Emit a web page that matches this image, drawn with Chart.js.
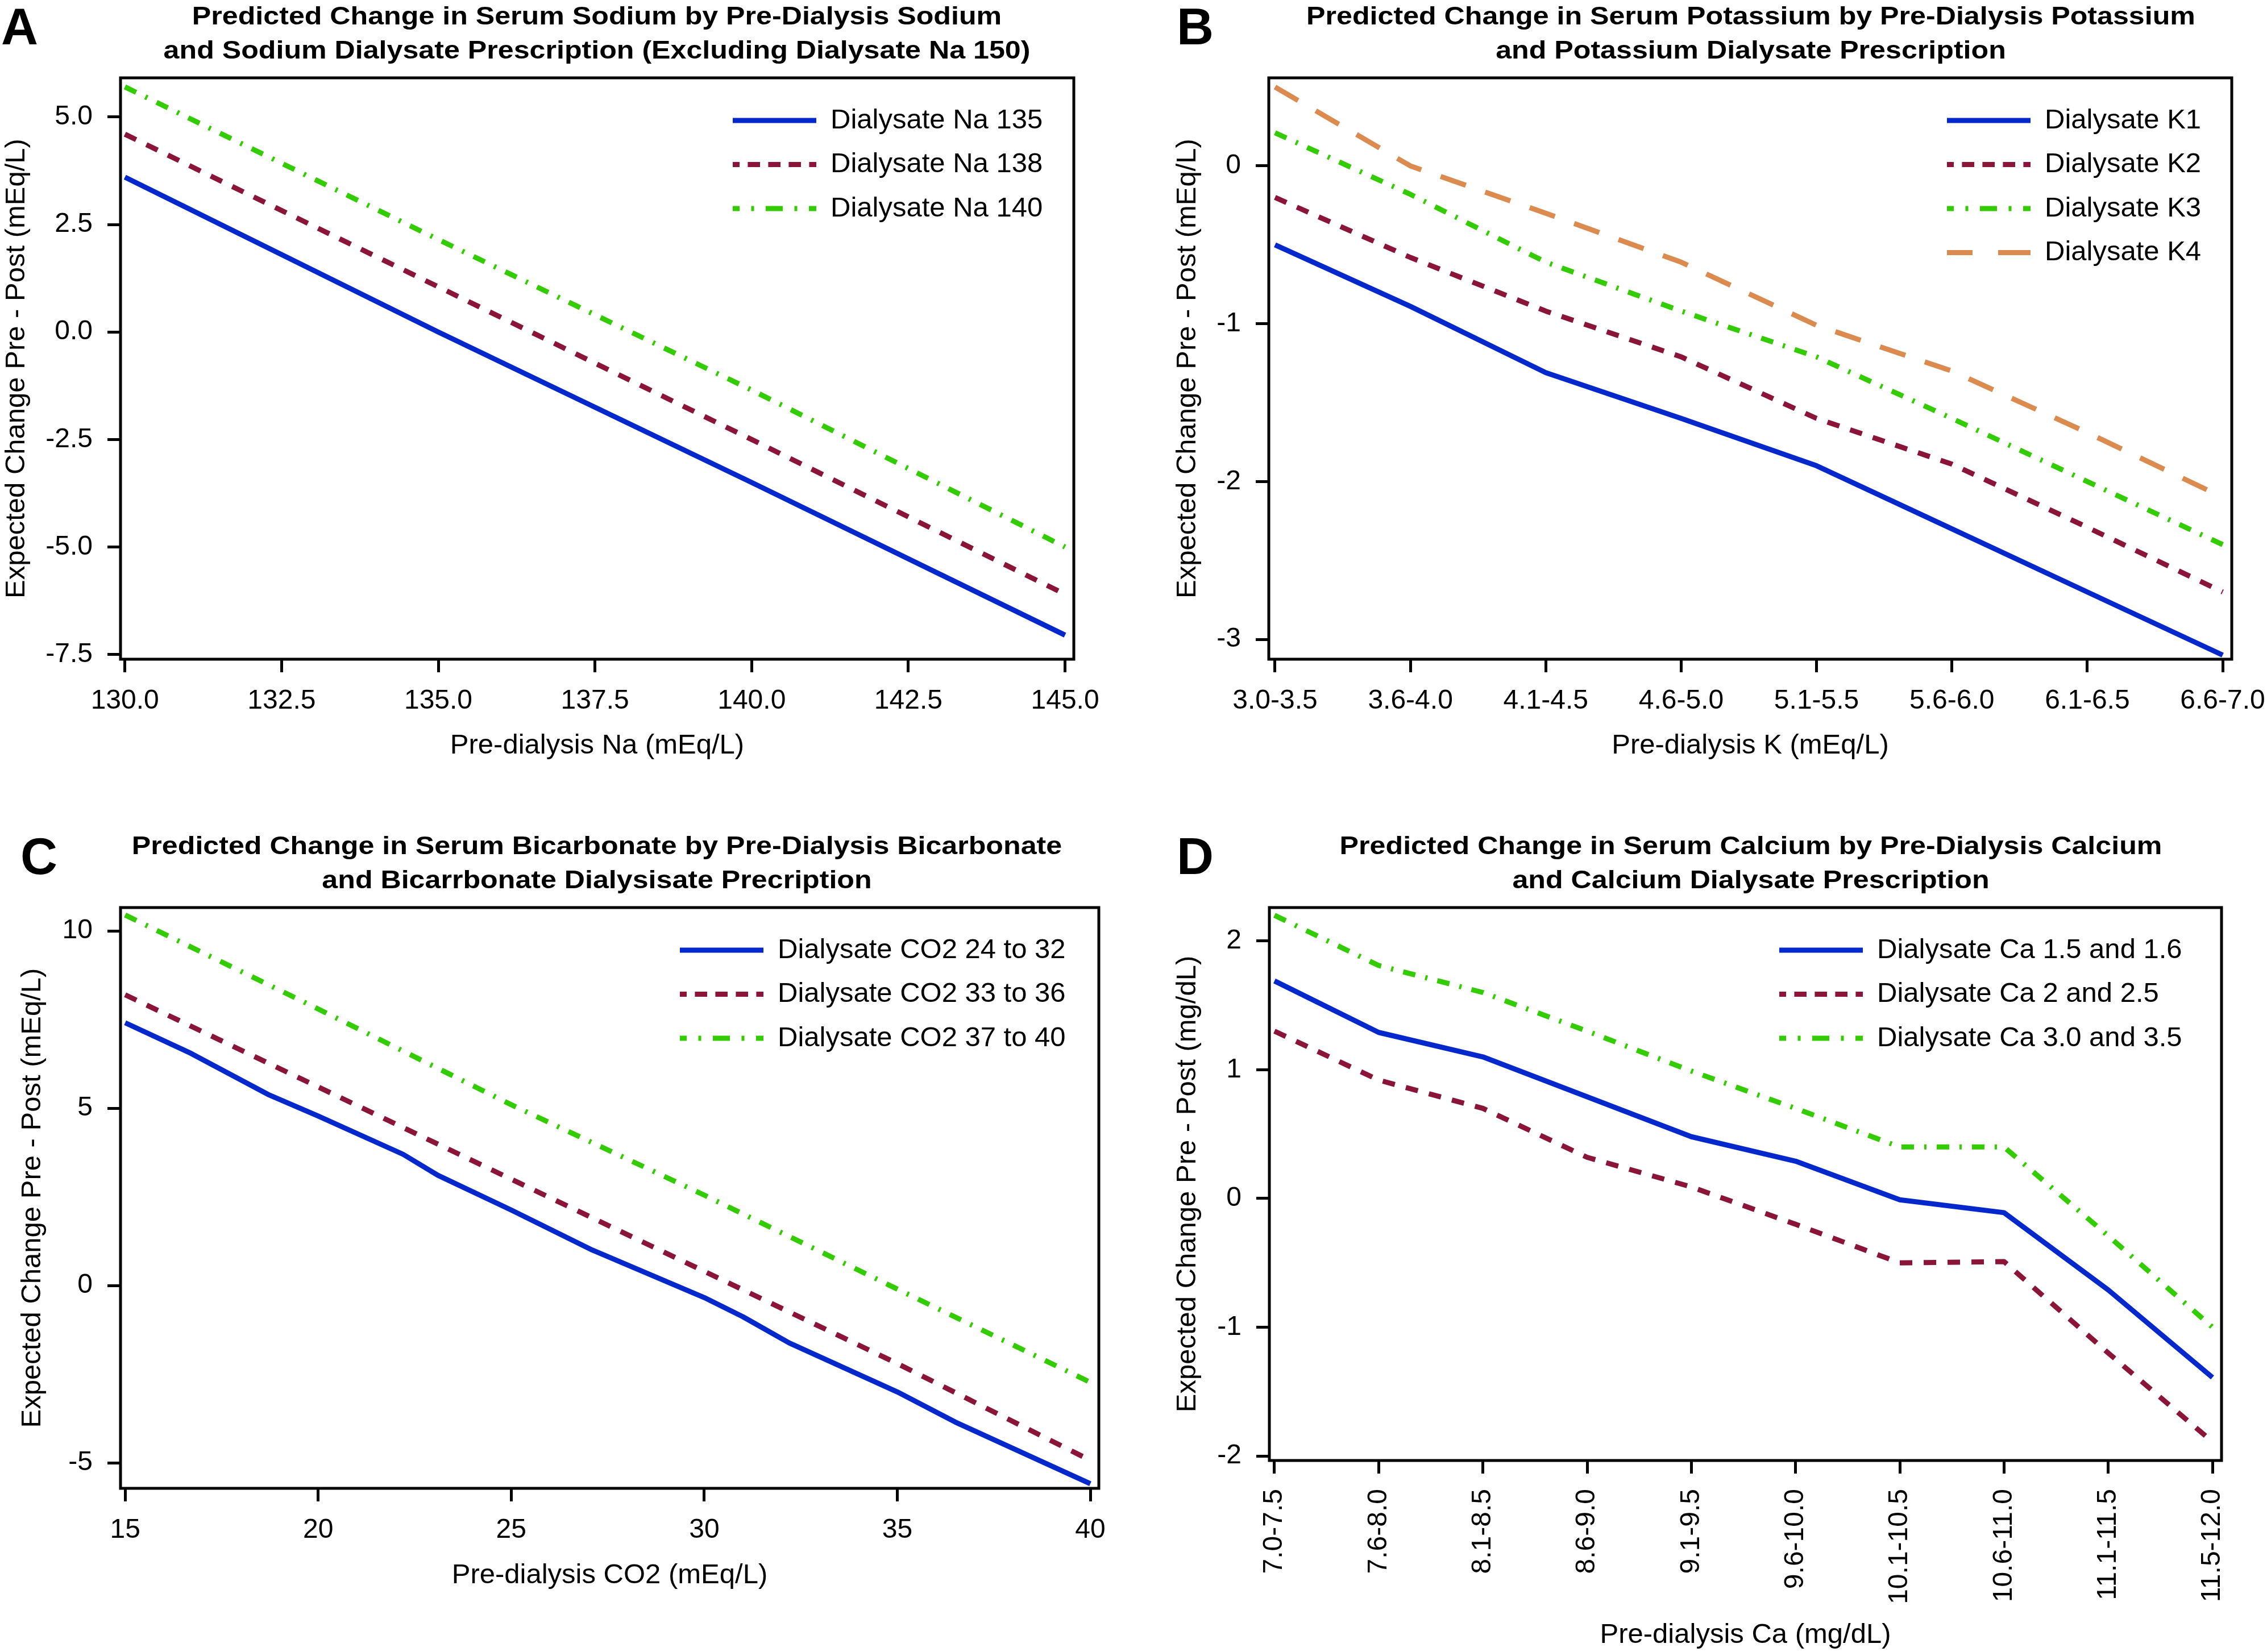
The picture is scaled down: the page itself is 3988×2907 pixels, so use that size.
<!DOCTYPE html>
<html>
<head>
<meta charset="utf-8">
<script src="https://cdn.jsdelivr.net/npm/chart.js@4.4.0/dist/chart.umd.min.js"></script>
<style>
    body { margin: 0; background: #fff; width: 3988px; height: 2907px; position: relative; overflow: hidden; }
    canvas { position: absolute; }
</style>
</head>
<body>
<canvas id="chartA" width="1994" height="1460" style="left:0;top:0"></canvas>
<canvas id="chartB" width="1994" height="1460" style="left:1994px;top:0"></canvas>
<canvas id="chartC" width="1994" height="1447" style="left:0;top:1460px"></canvas>
<canvas id="chartD" width="1994" height="1447" style="left:1994px;top:1460px"></canvas>
<script>
// A - sodium
const naX = [130, 135, 140, 145];
const na135 = [3.6, 0.0, -3.5, -7.05];
const na138 = [4.6, 1.05, -2.5, -6.1];
const na140 = [5.7, 2.15, -1.35, -5.0];
const naXTicks = [130, 132.5, 135, 137.5, 140, 142.5, 145];
const naYTicks = [-7.5, -5, -2.5, 0, 2.5, 5];

// B - potassium
const kCats = ['3.0-3.5', '3.6-4.0', '4.1-4.5', '4.6-5.0', '5.1-5.5', '5.6-6.0', '6.1-6.5', '6.6-7.0'];
const k1 = [-0.5, -0.89, -1.31, -1.6, -1.9, -2.3, -2.7, -3.1];
const k2 = [-0.2, -0.58, -0.92, -1.21, -1.6, -1.89, -2.29, -2.7];
const k3 = [0.21, -0.18, -0.61, -0.92, -1.21, -1.6, -2.0, -2.4];
const k4 = [0.5, 0.0, -0.3, -0.61, -1.01, -1.3, -1.69, -2.1];
const kYTicks = [-3, -2, -1, 0];

// C - bicarbonate
const co2XBlue = [15, 16.7, 18.7, 20, 22.2, 23.1, 25, 27.1, 30, 31, 32.2, 35, 36.5, 40];
const co2Low = [7.41, 6.55, 5.39, 4.78, 3.7, 3.11, 2.13, 1.0, -0.34, -0.88, -1.62, -3.0, -3.85, -5.59];
const co2X = [15, 20, 25, 30, 35, 40];
const co2Mid = [8.2, 5.6, 3.0, 0.4, -2.2, -4.93];
const co2High = [10.45, 7.8, 5.1, 2.55, -0.1, -2.73];
const co2XTicks = [15, 20, 25, 30, 35, 40];
const co2YTicks = [-5, 0, 5, 10];

// D - calcium
const caCats = ['7.0-7.5', '7.6-8.0', '8.1-8.5', '8.6-9.0', '9.1-9.5', '9.6-10.0', '10.1-10.5', '10.6-11.0', '11.1-11.5', '11.5-12.0'];
const ca15 = [1.69, 1.29, 1.1, 0.79, 0.48, 0.29, -0.01, -0.11, -0.71, -1.39];
const ca2 = [1.3, 0.92, 0.7, 0.32, 0.09, -0.2, -0.5, -0.49, -1.2, -1.89];
const ca3 = [2.2, 1.81, 1.6, 1.3, 0.99, 0.7, 0.4, 0.4, -0.29, -1.0];
const caYTicks = [-2, -1, 0, 1, 2];

const FONT = '"Liberation Sans", Arial, Helvetica, sans-serif';

// line looks, plot dash and legend dash
const STYLES = {
    solid:  { color: '#0528cc', dash: [], legendDash: [], legendOffset: 0 },
    dash:   { color: '#8a1538', dash: [22, 20], legendDash: [21.6, 14.4], legendOffset: 9.6 },
    dotdash:{ color: '#33cc00', dash: [22, 18, 4, 18], legendDash: [30, 20.5, 5, 20.5], legendOffset: 18 },
    long:   { color: '#dc8b50', dash: [47, 36], legendDash: [57, 45], legendOffset: 12 }
};

Chart.defaults.font.family = FONT;
Chart.defaults.color = '#000';

function pts(xs, ys) {
    return ys.map((y, i) => ({ x: xs[i], y: y }));
}

function series(label, data, style) {
    const s = STYLES[style];
    return {
        label: label,
        data: data,
        borderColor: s.color,
        borderWidth: 9,
        borderDash: s.dash,
        borderCapStyle: 'butt',
        borderJoinStyle: 'round',
        pointRadius: 0,
        tension: 0,
        fill: false,
        legendDash: s.legendDash,
        legendOffset: s.legendOffset
    };
}

// frame, letter, title and legend
const decor = {
    id: 'decor',
    afterDatasetsDraw(chart) {
        const a = chart.chartArea, ctx = chart.ctx;
        ctx.save();
        ctx.lineWidth = 5;
        ctx.strokeStyle = '#000';
        ctx.strokeRect(a.left, a.top, a.right - a.left, a.bottom - a.top);
        ctx.restore();
    },
    afterDraw(chart, args, opts) {
        const ctx = chart.ctx, a = chart.chartArea;
        ctx.save();
        ctx.fillStyle = '#000';
        ctx.textBaseline = 'alphabetic';
        ctx.textAlign = 'left';
        ctx.font = 'bold 90px ' + FONT;
        ctx.fillText(opts.letter, opts.letterX, 78);

        // titles are a bit wider than plain bold
        ctx.font = 'bold 44px ' + FONT;
        ctx.textAlign = 'center';
        opts.title.forEach((t, i) => {
            ctx.save();
            ctx.translate(opts.titleX, 43 + i * 60);
            ctx.scale(1.14, 1);
            ctx.fillText(t, 0, 0);
            ctx.restore();
        });

        ctx.font = '49px ' + FONT;
        ctx.textAlign = 'left';
        ctx.textBaseline = 'middle';
        chart.data.datasets.forEach((ds, i) => {
            const y = a.top + 75 + i * 77.5;
            ctx.strokeStyle = ds.borderColor;
            ctx.lineWidth = 9;
            ctx.setLineDash(ds.legendDash);
            ctx.lineDashOffset = ds.legendOffset;
            ctx.beginPath();
            ctx.moveTo(opts.legendX, y);
            ctx.lineTo(opts.legendX + 147, y);
            ctx.stroke();
            ctx.fillText(ds.label, opts.legendX + 172, y);
        });
        ctx.restore();
    }
};

function makeChart(id, p) {
    const canvas = document.getElementById(id);
    return new Chart(canvas, {
        type: 'line',
        data: { datasets: p.datasets },
        plugins: [decor],
        options: {
            responsive: false,
            animation: false,
            devicePixelRatio: 1,
            events: [],
            layout: { padding: { left: 0, top: p.frame.top, right: canvas.width - p.frame.right, bottom: 0 } },
            plugins: {
                legend: { display: false },
                tooltip: { enabled: false },
                decor: p.decor
            },
            scales: {
                x: {
                    type: 'linear',
                    min: p.xMin,
                    max: p.xMax,
                    border: { display: false },
                    grid: { drawOnChartArea: false, tickLength: 23, tickWidth: 5, tickColor: '#000' },
                    ticks: {
                        autoSkip: false,
                        padding: p.rotate ? 27 : 22,
                        minRotation: p.rotate ? 90 : 0,
                        maxRotation: p.rotate ? 90 : 0,
                        font: { size: 48 },
                        color: '#000',
                        callback: p.xFmt
                    },
                    afterBuildTicks: s => { s.ticks = p.xTicks.map(v => ({ value: v })); },
                    afterFit: s => {
                        s.height = canvas.height - p.frame.bottom;
                        s.paddingLeft = 0;
                        s.paddingRight = 0;
                    },
                    title: {
                        display: true,
                        text: p.xTitle,
                        font: { size: 49 },
                        color: '#000',
                        padding: { top: 0, bottom: p.xTitlePad }
                    }
                },
                y: {
                    type: 'linear',
                    min: p.yMin,
                    max: p.yMax,
                    border: { display: false },
                    grid: { drawOnChartArea: false, tickLength: 23, tickWidth: 5, tickColor: '#000' },
                    ticks: {
                        padding: 26,
                        font: { size: 48 },
                        color: '#000',
                        callback: p.yFmt
                    },
                    afterBuildTicks: s => { s.ticks = p.yTicks.map(v => ({ value: v })); },
                    afterFit: s => {
                        s.width = p.frame.left;
                        s.paddingTop = 0;
                        s.paddingBottom = 0;
                    },
                    title: {
                        display: true,
                        text: p.yTitle,
                        font: { size: 49 },
                        color: '#000',
                        padding: { top: p.yTitlePad, bottom: 0 }
                    }
                }
            }
        }
    });
}

const idxX = arr => arr.map((c, i) => i);
const fixed1 = v => Number(v).toFixed(1);
const plain = v => String(v);

makeChart('chartA', {
    datasets: [
        series('Dialysate Na 135', pts(naX, na135), 'solid'),
        series('Dialysate Na 138', pts(naX, na138), 'dash'),
        series('Dialysate Na 140', pts(naX, na140), 'dotdash')
    ],
    frame: { left: 212, top: 137, right: 1889, bottom: 1160 },
    xMin: 129.93, xMax: 145.14, yMin: -7.61, yMax: 5.91,
    xTicks: naXTicks, yTicks: naYTicks,
    xFmt: fixed1, yFmt: fixed1,
    xTitle: 'Pre-dialysis Na (mEq/L)', xTitlePad: 118.6,
    yTitle: 'Expected Change Pre - Post (mEq/L)', yTitlePad: 0,
    decor: {
        letter: 'A', letterX: 2, titleX: 1050, legendX: 1289,
        title: ['Predicted Change in Serum Sodium by Pre-Dialysis Sodium',
                'and Sodium Dialysate Prescription (Excluding Dialysate Na 150)']
    }
});

makeChart('chartB', {
    datasets: [
        series('Dialysate K1', pts(idxX(kCats), k1), 'solid'),
        series('Dialysate K2', pts(idxX(kCats), k2), 'dash'),
        series('Dialysate K3', pts(idxX(kCats), k3), 'dotdash'),
        series('Dialysate K4', pts(idxX(kCats), k4), 'long')
    ],
    frame: { left: 238, top: 137, right: 1932, bottom: 1160 },
    xMin: -0.046, xMax: 7.067, yMin: -3.126, yMax: 0.558,
    xTicks: idxX(kCats), yTicks: kYTicks,
    xFmt: v => kCats[v], yFmt: plain,
    xTitle: 'Pre-dialysis K (mEq/L)', xTitlePad: 118.6,
    yTitle: 'Expected Change Pre - Post (mEq/L)', yTitlePad: 65.6,
    decor: {
        letter: 'B', letterX: 76, titleX: 1086, legendX: 1431,
        title: ['Predicted Change in Serum Potassium by Pre-Dialysis Potassium',
                'and Potassium Dialysate Prescription']
    }
});

makeChart('chartC', {
    datasets: [
        series('Dialysate CO2 24 to 32', pts(co2XBlue, co2Low), 'solid'),
        series('Dialysate CO2 33 to 36', pts(co2X, co2Mid), 'dash'),
        series('Dialysate CO2 37 to 40', pts(co2X, co2High), 'dotdash')
    ],
    frame: { left: 212, top: 137, right: 1933, bottom: 1159 },
    xMin: 14.88, xMax: 40.22, yMin: -5.72, yMax: 10.66,
    xTicks: co2XTicks, yTicks: co2YTicks,
    xFmt: plain, yFmt: plain,
    xTitle: 'Pre-dialysis CO2 (mEq/L)', xTitlePad: 105.6,
    yTitle: 'Expected Change Pre - Post (mEq/L)', yTitlePad: 27.6,
    decor: {
        letter: 'C', letterX: 36, titleX: 1050, legendX: 1196,
        title: ['Predicted Change in Serum Bicarbonate by Pre-Dialysis Bicarbonate',
                'and Bicarrbonate Dialysisate Precription']
    }
});

makeChart('chartD', {
    datasets: [
        series('Dialysate Ca 1.5 and 1.6', pts(idxX(caCats), ca15), 'solid'),
        series('Dialysate Ca 2 and 2.5', pts(idxX(caCats), ca2), 'dash'),
        series('Dialysate Ca 3.0 and 3.5', pts(idxX(caCats), ca3), 'dotdash')
    ],
    frame: { left: 239, top: 137, right: 1914, bottom: 1110 },
    xMin: -0.049, xMax: 9.087, yMin: -2.035, yMax: 2.26,
    xTicks: idxX(caCats), yTicks: caYTicks,
    xFmt: v => caCats[v], yFmt: plain, rotate: true,
    xTitle: 'Pre-dialysis Ca (mg/dL)', xTitlePad: 0,
    yTitle: 'Expected Change Pre - Post (mg/dL)', yTitlePad: 65.6,
    decor: {
        letter: 'D', letterX: 76, titleX: 1086, legendX: 1136,
        title: ['Predicted Change in Serum Calcium by Pre-Dialysis Calcium',
                'and Calcium Dialysate Prescription']
    }
});
</script>
</body>
</html>
